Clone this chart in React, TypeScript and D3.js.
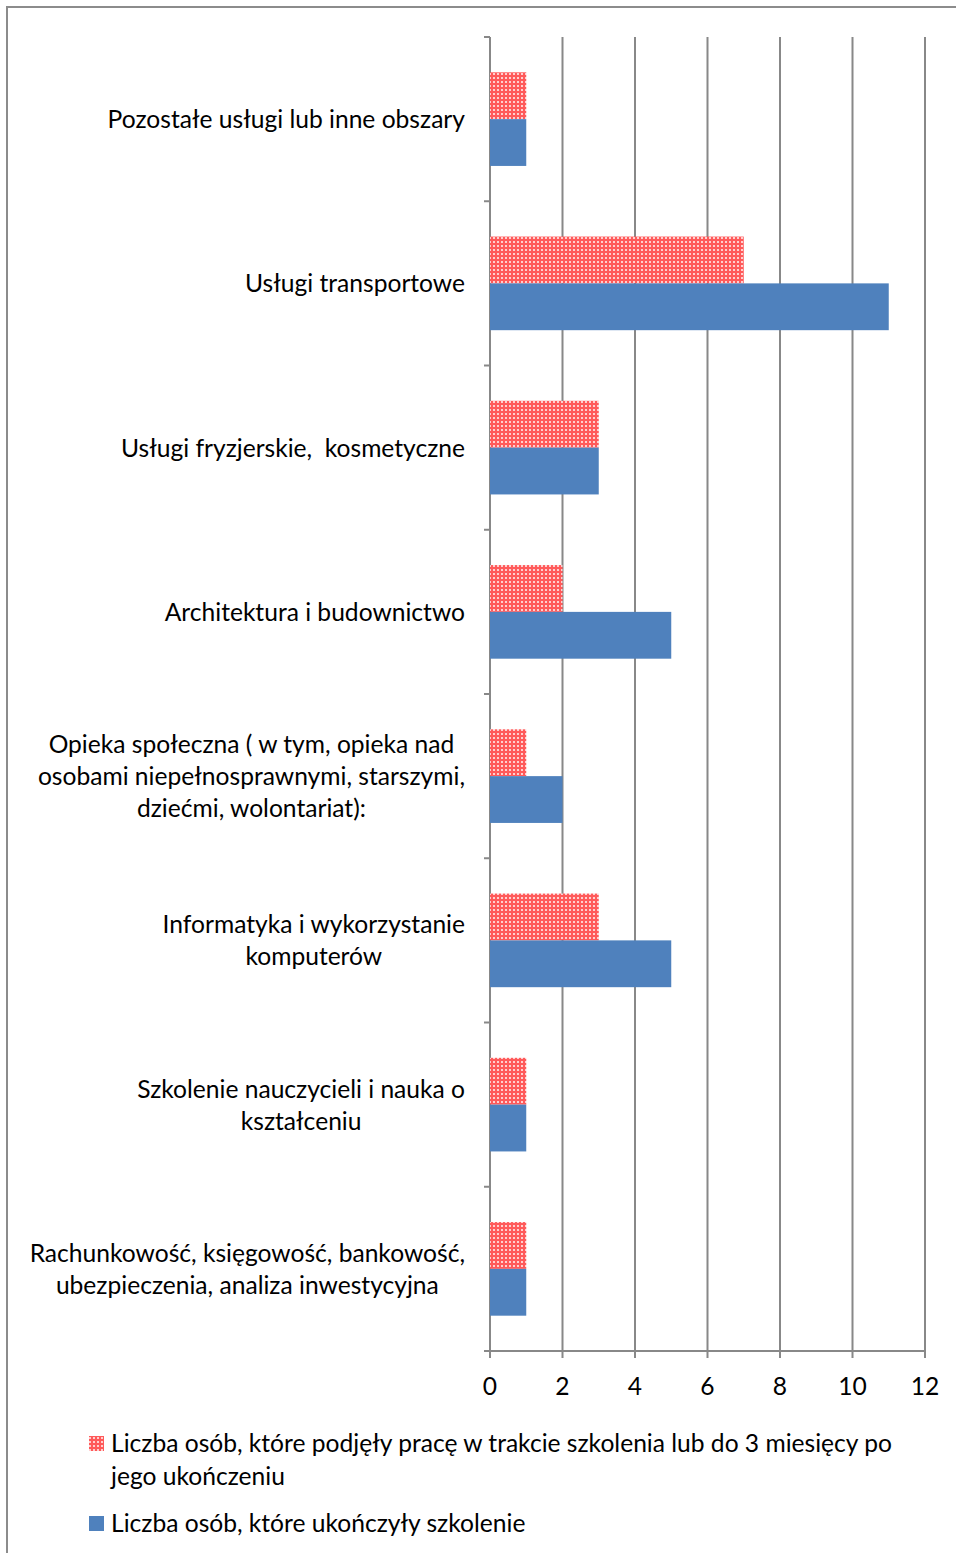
import React from "react";
import * as d3 from "d3";

const categories: string[][] = [
  ["Pozostałe usługi lub inne obszary"],
  ["Usługi transportowe"],
  ["Usługi fryzjerskie,\u00a0 kosmetyczne"],
  ["Architektura i budownictwo"],
  ["Opieka społeczna ( w tym, opieka nad", "osobami niepełnosprawnymi, starszymi,", "dziećmi, wolontariat):"],
  ["Informatyka i wykorzystanie", "komputerów"],
  ["Szkolenie nauczycieli i nauka o", "kształceniu"],
  ["Rachunkowość, księgowość, bankowość,", "ubezpieczenia, analiza inwestycyjna"],
];
const employedValues = [1, 7, 3, 2, 1, 3, 1, 1];
const completedValues = [1, 11, 3, 5, 2, 5, 1, 1];
const xTicks = [0, 2, 4, 6, 8, 10, 12];
const legendLabels: string[][] = [
  ["Liczba osób, które podjęły pracę w trakcie szkolenia lub do 3 miesięcy po", "jego ukończeniu"],
  ["Liczba osób, które ukończyły szkolenie"],
];

const W = 956;
const H = 1553;
const FONT = "Lato, 'Noto Sans', sans-serif";
const GRID = "#888888";
const BLUE = "#4f81bd";

export default function App() {
  const left = 490, right = 925, top = 37, bottom = 1351;
  const x = d3.scaleLinear().domain([0, 12]).range([left, right]);
  const y = d3.scaleBand<number>().domain(d3.range(categories.length)).range([top, bottom]).paddingInner(0.43).paddingOuter(0.215);
  const bh = y.bandwidth() / 2;
  const step = (bottom - top) / categories.length;
  const fs = 24.6;
  const lh = 32;
  return (
    <svg width={W} height={H} style={{ position: "absolute", left: 0, top: 0, background: "#fff" }} fontFamily={FONT}>
      <defs>
        <pattern id="chk" width={4} height={4} patternUnits="userSpaceOnUse">
          <rect width={4} height={4} fill="#ff5a5a" />
          <rect x={1} y={1} width={2} height={2} fill="#ffcfcf" />
        </pattern>
      </defs>
      <rect x={7} y={7} width={W + 10} height={H + 10} fill="none" stroke="#8c8c8c" strokeWidth={2} />
      {xTicks.slice(1).map((t) => (
        <line key={t} x1={x(t)} x2={x(t)} y1={top} y2={bottom + 7} stroke={GRID} strokeWidth={2} />
      ))}
      <line x1={x(0)} x2={x(0)} y1={top} y2={bottom + 7} stroke={GRID} strokeWidth={2} />
      {d3.range(categories.length + 1).map((i) => (
        <line key={i} x1={left - 6} x2={left} y1={top + i * step} y2={top + i * step} stroke={GRID} strokeWidth={2} />
      ))}
      <line x1={left - 1} x2={right + 1} y1={bottom} y2={bottom} stroke={GRID} strokeWidth={2} />
      {categories.map((lines, i) => {
        const y0 = y(i)!;
        return (
          <g key={i}>
            <rect x={x(0)} y={y0} width={x(employedValues[i]) - x(0)} height={bh} fill="url(#chk)" />
            <rect x={x(0)} y={y0 + bh} width={x(completedValues[i]) - x(0)} height={bh} fill={BLUE} />
          </g>
        );
      })}
      {categories.map((lines, i) => {
        const cy = y(i)! + y.bandwidth() / 2;
        return <LabelBlock key={i} lines={lines} cy={cy} rightX={465} fs={fs} lh={lh} />;
      })}
      {xTicks.map((t) => (
        <text key={t} x={x(t)} y={1395} textAnchor="middle" fontSize={fs} fill="#000">{t}</text>
      ))}
      <rect x={89} y={1436} width={15} height={15} fill="url(#chk)" />
      {legendLabels[0].map((l, j) => (
        <text key={j} x={111} y={1452 + j * 33} fontSize={fs} fill="#000">{l}</text>
      ))}
      <rect x={89} y={1516} width={15} height={15} fill={BLUE} />
      <text x={111} y={1532} fontSize={fs} fill="#000">{legendLabels[1][0]}</text>
    </svg>
  );
}

function LabelBlock({ lines, cy, rightX, fs, lh }: { lines: string[]; cy: number; rightX: number; fs: number; lh: number }) {
  const ref = React.useRef<SVGGElement>(null);
  const [w, setW] = React.useState(0);
  React.useLayoutEffect(() => {
    if (!ref.current) return;
    const texts = Array.from(ref.current.querySelectorAll("text")) as SVGTextElement[];
    setW(d3.max(texts, (t) => t.getComputedTextLength()) || 0);
  }, []);
  const n = lines.length;
  const cx = rightX - w / 2;
  return (
    <g ref={ref}>
      {lines.map((l, j) => (
        <text key={j} x={cx} y={cy + (j - (n - 1) / 2) * lh + 9} textAnchor="middle" fontSize={fs} fill="#000">{l}</text>
      ))}
    </g>
  );
}
